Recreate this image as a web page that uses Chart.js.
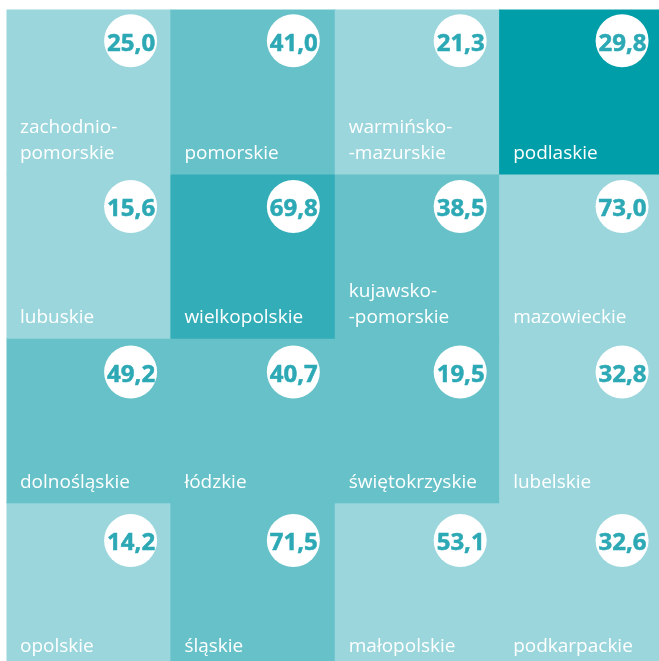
<!DOCTYPE html>
<html>
<head>
<meta charset="utf-8">
<style>
    html, body { margin: 0; padding: 0; width: 659px; height: 661px; overflow: hidden; background: #fff; }
    canvas { display: block; }
</style>
<script src="https://cdn.jsdelivr.net/npm/chart.js@4"></script>
</head>
<body>
<canvas id="grid" width="664" height="667"></canvas>
<script>
const regions = [
    ['zachodnio-\npomorskie', 'pomorskie', 'warmińsko-\n-mazurskie', 'podlaskie'],
    ['lubuskie', 'wielkopolskie', 'kujawsko-\n-pomorskie', 'mazowieckie'],
    ['dolnośląskie', 'łódzkie', 'świętokrzyskie', 'lubelskie'],
    ['opolskie', 'śląskie', 'małopolskie', 'podkarpackie']
];
const values = [
    [25.0, 41.0, 21.3, 29.8],
    [15.6, 69.8, 38.5, 73.0],
    [49.2, 40.7, 19.5, 32.8],
    [14.2, 71.5, 53.1, 32.6]
];
// colour class of each tile, 0 = lightest
const classes = [
    [0, 1, 0, 3],
    [0, 2, 1, 0],
    [1, 1, 1, 0],
    [0, 1, 0, 0]
];
const palette = ['#9ad6dc', '#66c1c8', '#33adb7', '#009ea8'];

// where the white circle sits inside its tile
const badgeX = [0.255, 0.245, 0.26, 0.245];
const badgeY = [0.19, 0.198, 0.205, 0.23];

const tileSets = regions.map((row, r) => ({
    type: 'bar',
    stack: 'tiles',
    data: row.map((_, c) => ({ x: c, y: [r, r + 1] })),
    backgroundColor: classes[r].map(c => palette[c]),
    barPercentage: 1,
    categoryPercentage: 1,
    inflateAmount: 0.5,
    order: 2
}));

const badges = [];
values.forEach((row, r) => row.forEach((v, c) => {
    badges.push({ x: c + badgeX[c], y: r + badgeY[r], text: v.toFixed(1).replace('.', ',') });
}));

const tileText = {
    id: 'tileText',
    afterDatasetsDraw(chart) {
        const ctx = chart.ctx;
        ctx.save();
        ctx.textAlign = 'left';
        ctx.textBaseline = 'alphabetic';
        ctx.fillStyle = '#ffffff';
        ctx.font = '19px "Open Sans"';
        regions.forEach((row, r) => row.forEach((name, c) => {
            const bar = chart.getDatasetMeta(r).data[c];
            const lines = name.split('\n');
            const left = bar.x - bar.width / 2 + 13.5;
            const bottom = Math.max(bar.y, bar.base) - 15;
            lines.forEach((line, i) => {
                ctx.fillText(line, left, bottom - (lines.length - 1 - i) * 26);
            });
        }));
        ctx.textAlign = 'center';
        ctx.fillStyle = '#2da9b5';
        ctx.strokeStyle = '#2da9b5';
        ctx.lineWidth = 0.5;
        ctx.font = 'bold 24px "Open Sans"';
        const points = chart.getDatasetMeta(regions.length).data;
        badges.forEach((b, i) => {
            ctx.fillText(b.text, points[i].x + 0.5, points[i].y + 10);
            ctx.strokeText(b.text, points[i].x + 0.5, points[i].y + 10);
        });
        ctx.restore();
    }
};

new Chart(document.getElementById('grid').getContext('2d'), {
    data: {
        datasets: [...tileSets, {
            type: 'scatter',
            data: badges,
            pointRadius: 26.5,
            pointHoverRadius: 26.5,
            pointBackgroundColor: '#ffffff',
            backgroundColor: '#ffffff',
            pointBorderWidth: 0,
            showLine: false,
            clip: false,
            order: 1
        }]
    },
    options: {
        responsive: false,
        animation: false,
        events: [],
        layout: { autoPadding: false, padding: { left: 6.5, top: 9.5, right: 0, bottom: 0 } },
        plugins: { legend: { display: false }, tooltip: { enabled: false } },
        scales: {
            x: { type: 'linear', display: false, stacked: true, offset: false, min: -0.5, max: 3.5, ticks: { stepSize: 1 } },
            y: { display: false, stacked: false, reverse: true, min: 0, max: 4 }
        }
    },
    plugins: [tileText]
});
</script>
</body>
</html>
